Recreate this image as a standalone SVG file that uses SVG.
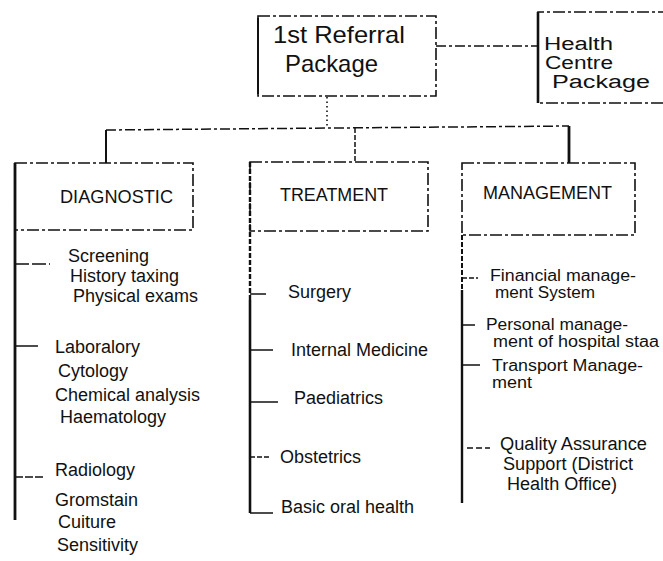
<svg xmlns="http://www.w3.org/2000/svg" width="663" height="561" viewBox="0 0 663 561">
<style>
.bg{fill:#fff}
.box{fill:none;stroke:#111;stroke-width:1.6;stroke-dasharray:12 3 3 3}
.edge{fill:none;stroke:#111;stroke-width:2.6}
.ln{fill:none;stroke:#111;stroke-width:1.5}
.dash{fill:none;stroke:#111;stroke-width:1.5;stroke-dasharray:10 3 3 3}
.dot{fill:none;stroke:#111;stroke-width:1.6;stroke-dasharray:1.5 3}
.spine{fill:none;stroke:#111;stroke-width:2.8}
.big{font-family:"Liberation Sans",Arial,sans-serif;font-size:24px;fill:#111}
.hc{font-family:"Liberation Sans",Arial,sans-serif;font-size:18px;fill:#111}
.hd{font-family:"Liberation Sans",Arial,sans-serif;font-size:18px;fill:#111}
.it{font-family:"Liberation Sans",Arial,sans-serif;font-size:18px;fill:#111}
.mg{font-family:"Liberation Sans",Arial,sans-serif;font-size:16px;fill:#111}
</style>
<rect class="bg" x="0" y="0" width="663" height="561"/>

<g id="connectors">
  <line class="dash" x1="436" y1="46" x2="538" y2="46"/>
  <line class="dot" x1="327" y1="97" x2="327" y2="128"/>
  <line class="dash" x1="106" y1="130" x2="569" y2="126"/>
  <line class="ln" x1="106" y1="130" x2="106" y2="163" style="stroke-width:2"/>
  <line class="dash" x1="355" y1="128" x2="355" y2="162" style="stroke-dasharray:5 2"/>
  <line class="spine" x1="569" y1="126" x2="569" y2="163"/>
  <!-- diagnostic spine and branches -->
  <line class="spine" x1="15" y1="163" x2="15" y2="520"/>
  <line class="dash" x1="15" y1="264" x2="50" y2="264" style="stroke-dasharray:14 3"/>
  <line class="ln" x1="15" y1="346" x2="38" y2="346"/>
  <line class="dash" x1="15" y1="477" x2="43" y2="477" style="stroke-dasharray:8 2"/>
  <!-- treatment spine and branches -->
  <line class="spine" x1="250" y1="162" x2="250" y2="300" style="stroke-dasharray:5 2;stroke-width:2.4"/>
  <line class="spine" x1="250" y1="300" x2="250" y2="513" style="stroke-width:2.6"/>
  <line class="ln" x1="250" y1="294" x2="266" y2="294"/>
  <line class="ln" x1="250" y1="350" x2="273" y2="350"/>
  <line class="ln" x1="250" y1="402" x2="278" y2="402"/>
  <line class="dash" x1="250" y1="457" x2="270" y2="457" style="stroke-dasharray:5 2"/>
  <line class="ln" x1="250" y1="513" x2="273" y2="513"/>
  <!-- management spine and branches -->
  <line class="spine" x1="462" y1="235" x2="462" y2="290" style="stroke-dasharray:5 2;stroke-width:2"/>
  <line class="spine" x1="462" y1="290" x2="462" y2="503" style="stroke-width:2.4"/>
  <line class="dash" x1="462" y1="278" x2="478" y2="278" style="stroke-dasharray:5 2"/>
  <line class="ln" x1="462" y1="325" x2="475" y2="325"/>
  <line class="ln" x1="462" y1="365" x2="480" y2="365"/>
  <line class="dash" x1="467" y1="448" x2="490" y2="448" style="stroke-dasharray:6 3"/>
</g>

<g id="node-first-referral">
  <rect class="box" x="258" y="16" width="178" height="80"/>
  <line class="edge" x1="258" y1="18" x2="258" y2="94" style="stroke-width:2"/>
  <text class="big" x="273" y="43" textLength="132" lengthAdjust="spacingAndGlyphs">1st Referral</text>
  <text class="big" x="285" y="72" textLength="93" lengthAdjust="spacingAndGlyphs">Package</text>
</g>

<g id="node-health-centre">
  <path class="box" d="M670 12 H538 V103 H670"/>
  <line class="edge" x1="538" y1="12" x2="538" y2="103"/>
  <text class="hc" x="544" y="50" textLength="69" lengthAdjust="spacingAndGlyphs">Health</text>
  <text class="hc" x="545" y="69" textLength="68" lengthAdjust="spacingAndGlyphs">Centre</text>
  <text class="hc" x="552" y="88" textLength="98" lengthAdjust="spacingAndGlyphs">Package</text>
</g>

<g id="node-diagnostic">
  <rect class="box" x="15" y="163" width="178" height="67"/>
  <text class="hd" x="60" y="203" textLength="113" lengthAdjust="spacingAndGlyphs">DIAGNOSTIC</text>
</g>
<g id="node-treatment">
  <rect class="box" x="250" y="162" width="178" height="69"/>
  <text class="hd" x="280" y="201" textLength="108" lengthAdjust="spacingAndGlyphs">TREATMENT</text>
</g>
<g id="node-management">
  <rect class="box" x="462" y="163" width="173" height="72"/>
  <text class="hd" x="483" y="199" textLength="129" lengthAdjust="spacingAndGlyphs">MANAGEMENT</text>
</g>

<g id="node-diag-screening">
  <text class="it" x="68" y="262">Screening</text>
  <text class="it" x="70" y="282">History taxing</text>
  <text class="it" x="73" y="302">Physical exams</text>
</g>
<g id="node-diag-laboratory">
  <text class="it" x="55" y="353">Laboralory</text>
  <text class="it" x="58" y="377">Cytology</text>
  <text class="it" x="55" y="401">Chemical analysis</text>
  <text class="it" x="60" y="423">Haematology</text>
</g>
<g id="node-diag-radiology">
  <text class="it" x="55" y="476">Radiology</text>
  <text class="it" x="55" y="506">Gromstain</text>
  <text class="it" x="58" y="528">Cuiture</text>
  <text class="it" x="57" y="551">Sensitivity</text>
</g>

<g id="node-treat-surgery"><text class="it" x="288" y="298">Surgery</text></g>
<g id="node-treat-internal"><text class="it" x="291" y="356">Internal Medicine</text></g>
<g id="node-treat-paediatrics"><text class="it" x="294" y="404">Paediatrics</text></g>
<g id="node-treat-obstetrics"><text class="it" x="280" y="463">Obstetrics</text></g>
<g id="node-treat-oral"><text class="it" x="281" y="513">Basic oral health</text></g>

<g id="node-mgmt-financial">
  <text class="mg" x="490" y="281" textLength="146" lengthAdjust="spacingAndGlyphs">Financial manage-</text>
  <text class="mg" x="495" y="298" textLength="100" lengthAdjust="spacingAndGlyphs">ment System</text>
</g>
<g id="node-mgmt-personal">
  <text class="mg" x="486" y="330" textLength="142" lengthAdjust="spacingAndGlyphs">Personal manage-</text>
  <text class="mg" x="493" y="347" textLength="166" lengthAdjust="spacingAndGlyphs">ment of hospital staa</text>
</g>
<g id="node-mgmt-transport">
  <text class="mg" x="492" y="371" textLength="151" lengthAdjust="spacingAndGlyphs">Transport Manage-</text>
  <text class="mg" x="492" y="388" textLength="40" lengthAdjust="spacingAndGlyphs">ment</text>
</g>
<g id="node-mgmt-quality">
  <text class="it" x="500" y="450" textLength="147" lengthAdjust="spacingAndGlyphs">Quality Assurance</text>
  <text class="it" x="503" y="470" textLength="130" lengthAdjust="spacingAndGlyphs">Support (District</text>
  <text class="it" x="507" y="490" textLength="110" lengthAdjust="spacingAndGlyphs">Health Office)</text>
</g>
</svg>
